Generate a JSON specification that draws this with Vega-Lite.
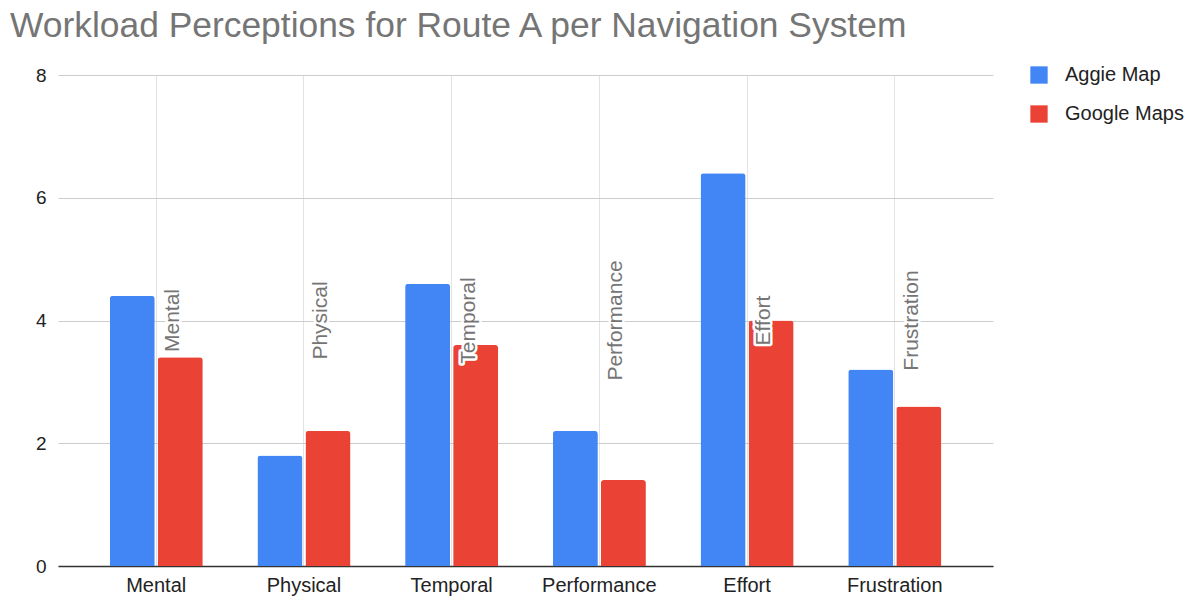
{
  "$schema": "https://vega.github.io/schema/vega-lite/v6.json",
  "width": 935,
  "height": 491,
  "autosize": {"type": "none"},
  "padding": {"left": 58, "top": 75, "right": 205, "bottom": 33},
  "background": "white",
  "config": {
    "font": "Liberation Sans",
    "view": {"stroke": null}
  },
  "title": {
    "text": "Workload Perceptions for Route A per Navigation System",
    "anchor": "start",
    "frame": "group",
    "dx": -48,
    "offset": 21,
    "fontSize": 35.4,
    "fontWeight": "normal",
    "color": "#757575",
    "font": "Liberation Sans"
  },
  "data": {
    "values": [
      {"category": "Mental", "system": "Aggie Map", "value": 4.4},
      {"category": "Mental", "system": "Google Maps", "value": 3.4},
      {"category": "Physical", "system": "Aggie Map", "value": 1.8},
      {"category": "Physical", "system": "Google Maps", "value": 2.2},
      {"category": "Temporal", "system": "Aggie Map", "value": 4.6},
      {"category": "Temporal", "system": "Google Maps", "value": 3.6},
      {"category": "Performance", "system": "Aggie Map", "value": 2.2},
      {"category": "Performance", "system": "Google Maps", "value": 1.4},
      {"category": "Effort", "system": "Aggie Map", "value": 6.4},
      {"category": "Effort", "system": "Google Maps", "value": 4.0},
      {"category": "Frustration", "system": "Aggie Map", "value": 3.2},
      {"category": "Frustration", "system": "Google Maps", "value": 2.6}
    ]
  },
  "encoding": {
    "x": {
      "field": "category",
      "type": "nominal",
      "sort": ["Mental", "Physical", "Temporal", "Performance", "Effort", "Frustration"],
      "scale": {"paddingInner": 0.37, "paddingOuter": 0.35},
      "axis": {
        "title": null,
        "labelAngle": 0,
        "labelFontSize": 20,
        "labelColor": "#222222",
        "labelPadding": 9,
        "ticks": false,
        "domainColor": "#333333",
        "domainWidth": 1.3,
        "grid": true,
        "gridColor": "#e3e3e3",
        "bandPosition": 0.5
      }
    }
  },
  "layer": [
    {
      "mark": {"type": "bar", "cornerRadiusTopLeft": 3, "cornerRadiusTopRight": 3},
      "encoding": {
        "xOffset": {
          "field": "system",
          "type": "nominal",
          "scale": {"paddingInner": 0.0625, "paddingOuter": 0}
        },
        "y": {
          "field": "value",
          "type": "quantitative",
          "scale": {"domain": [0, 8]},
          "axis": {
            "title": null,
            "values": [0, 2, 4, 6, 8],
            "format": "d",
            "labelFontSize": 19,
            "labelColor": "#222222",
            "labelPadding": 12,
            "ticks": false,
            "domain": false,
            "gridColor": "#cccccc",
            "gridWidth": 1
          }
        },
        "color": {
          "field": "system",
          "type": "nominal",
          "scale": {"domain": ["Aggie Map", "Google Maps"], "range": ["#4285F4", "#EA4335"]},
          "legend": {
            "title": null,
            "orient": "none",
            "legendX": 971,
            "legendY": -10,
            "padding": 0,
            "symbolType": "square",
            "symbolSize": 300,
            "symbolStrokeWidth": 0,
            "symbolOpacity": 1,
            "labelFontSize": 20,
            "labelColor": "#222222",
            "labelOffset": 16,
            "rowPadding": 19
          }
        }
      }
    },
    {
      "transform": [{"filter": "datum.system === 'Aggie Map'"}],
      "mark": {
        "type": "text",
        "angle": 270,
        "align": "center",
        "baseline": "top",
        "dy": 6,
        "fontSize": 21,
        "stroke": "white",
        "strokeWidth": 5,
        "strokeJoin": "round",
        "fill": "white"
      },
      "encoding": {
        "y": {"datum": 4, "type": "quantitative"},
        "text": {"field": "category"}
      }
    },
    {
      "transform": [{"filter": "datum.system === 'Aggie Map'"}],
      "mark": {
        "type": "text",
        "angle": 270,
        "align": "center",
        "baseline": "top",
        "dy": 6,
        "fontSize": 21,
        "fill": "#757575"
      },
      "encoding": {
        "y": {"datum": 4, "type": "quantitative"},
        "text": {"field": "category"}
      }
    }
  ]
}
